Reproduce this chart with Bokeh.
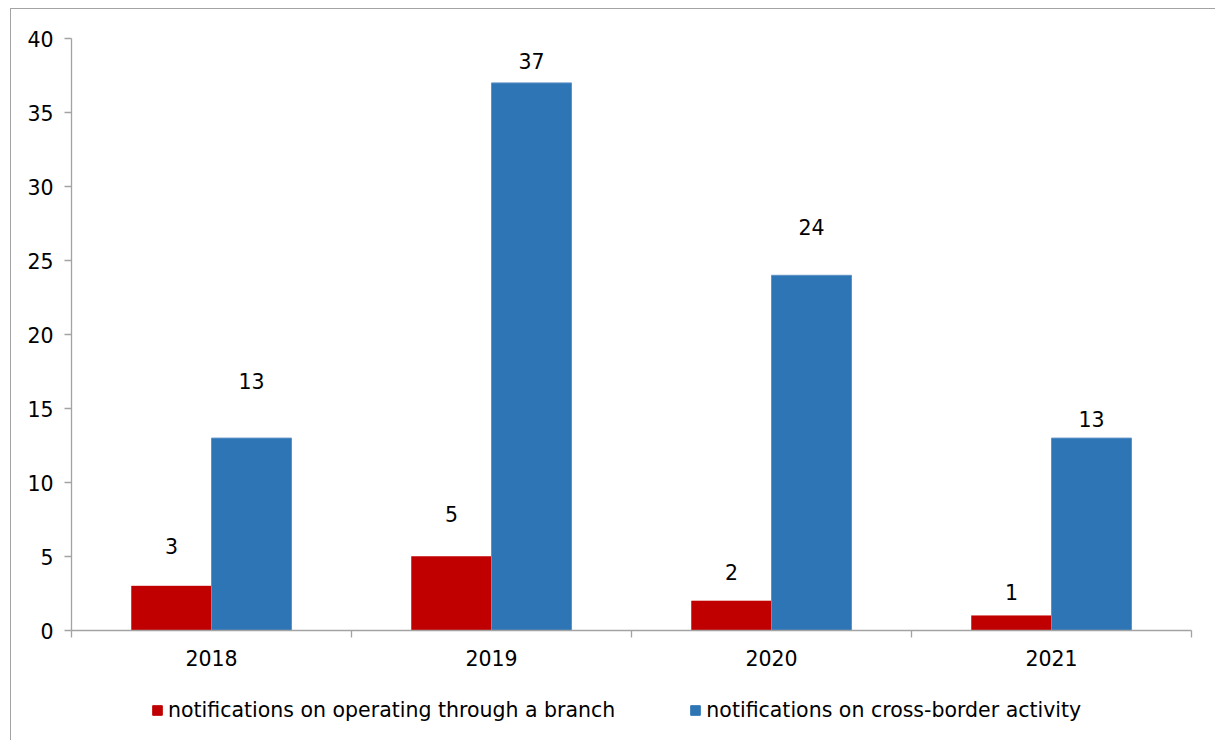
from bokeh.plotting import figure
from bokeh.layouts import column
from bokeh.models import (ColumnDataSource, FixedTicker, Legend, LegendItem,
                          LinearAxis, Range1d)
from bokeh.core.properties import value
from bokeh.embed import file_html
from bokeh.resources import INLINE

# ---- data ----
years = ["2018", "2019", "2020", "2021"]
branch = [3, 5, 2, 1]
cross_border = [13, 37, 24, 13]
series_names = ["notifications on operating through a branch",
                "notifications on cross-border activity"]
y_ticks = [0, 5, 10, 15, 20, 25, 30, 35, 40]

# label vertical offsets (px above bar top) as in the original layout
branch_label_off = [40, 43, 29, 24]
cross_label_off = [57, 22, 48, 19]

RED = "#C00000"
BLUE = "#2E75B6"
GRID = "#a3a3a3"
FONT = "DejaVu Sans"
FS = "20.5px"

n = len(years)
centers = [i + 0.5 for i in range(n)]
bw = 0.2857

src_b = ColumnDataSource(dict(x=[c - bw / 2 for c in centers], top=branch,
                              lab=[str(v) for v in branch],
                              off=[-o for o in branch_label_off]))
src_c = ColumnDataSource(dict(x=[c + bw / 2 for c in centers], top=cross_border,
                              lab=[str(v) for v in cross_border],
                              off=[-o for o in cross_label_off]))

W = 1204
p = figure(width=W, height=672, output_backend="svg", toolbar_location=None,
           x_range=Range1d(0, n), y_range=Range1d(0, 40),
           x_axis_type=None, y_axis_type=None,
           min_border_left=60, min_border_right=24, min_border_top=29,
           min_border_bottom=51)
p.outline_line_color = None
p.background_fill_color = "white"
p.border_fill_color = "white"

# y axis
yaxis = LinearAxis(ticker=FixedTicker(ticks=y_ticks))
yaxis.axis_line_color = GRID
yaxis.axis_line_width = 1.3
yaxis.major_tick_line_color = GRID
yaxis.major_tick_line_width = 1.3
yaxis.major_tick_out = 7
yaxis.major_tick_in = 0
yaxis.minor_tick_line_color = None
yaxis.major_label_text_font = FONT
yaxis.major_label_text_font_size = FS
yaxis.major_label_text_color = "#000000"
yaxis.major_label_standoff = 11
p.add_layout(yaxis, "left")

# x axis: labels at category centres, tick marks at category boundaries
xaxis = LinearAxis(ticker=FixedTicker(ticks=centers, minor_ticks=list(range(n + 1))))
xaxis.major_label_overrides = {c: y for c, y in zip(centers, years)}
xaxis.axis_line_color = GRID
xaxis.axis_line_width = 1.3
xaxis.major_tick_line_color = None
xaxis.major_tick_out = 7
xaxis.major_tick_in = 0
xaxis.minor_tick_line_color = GRID
xaxis.minor_tick_line_width = 1.3
xaxis.minor_tick_out = 7
xaxis.minor_tick_in = 0
xaxis.major_label_text_font = FONT
xaxis.major_label_text_font_size = FS
xaxis.major_label_text_color = "#000000"
xaxis.major_label_standoff = 12
p.add_layout(xaxis, "below")

# grid
p.ygrid.ticker = FixedTicker(ticks=y_ticks[1:])
p.ygrid.grid_line_color = GRID
p.ygrid.grid_line_width = 1.3
p.xgrid.grid_line_color = None

p.vbar(x="x", top="top", bottom=0, width=bw, source=src_b,
       fill_color=RED, line_color=RED, line_width=0.5)
p.vbar(x="x", top="top", bottom=0, width=bw, source=src_c,
       fill_color=BLUE, line_color="#5f93c8", line_width=1)

for src in (src_b, src_c):
    p.text(x="x", y="top", text="lab", y_offset="off", source=src,
           text_align="center", text_baseline="middle",
           text_font=value(FONT), text_font_size=FS, text_color="#000000")

# ---- legend strip (separate figure below the chart) ----
lg = figure(width=W, height=60, output_backend="svg", toolbar_location=None,
            x_range=Range1d(0, n), y_range=Range1d(100, 101),
            x_axis_type=None, y_axis_type=None,
            min_border_left=0, min_border_right=0, min_border_top=0,
            min_border_bottom=0)
lg.outline_line_color = None
lg.grid.visible = False
lg.border_fill_color = "white"
# same series drawn out of view here; they only feed the legend swatches
l1 = lg.vbar(x="x", top="top", bottom=0, width=bw, source=src_b,
             fill_color=RED, line_color=RED)
l2 = lg.vbar(x="x", top="top", bottom=0, width=bw, source=src_c,
             fill_color=BLUE, line_color=BLUE)

legend = Legend(items=[LegendItem(label=series_names[0], renderers=[l1]),
                       LegendItem(label=series_names[1], renderers=[l2])],
                location=(80, 19), orientation="horizontal")
legend.label_text_font = FONT
legend.label_text_font_size = FS
legend.label_text_color = "#000000"
legend.glyph_width = 12
legend.glyph_height = 12
legend.label_standoff = 5
legend.spacing = 74
legend.padding = 0
legend.margin = 0
legend.border_line_color = None
legend.background_fill_alpha = 0
lg.add_layout(legend, "center")

layout = column(p, lg, spacing=0)
layout.margin = (8, 0, 0, 10)
layout.styles = {"border-left": f"1.5px solid {GRID}",
                 "border-top": f"1.5px solid {GRID}"}

open("out.html", "w").write(file_html(layout, INLINE))
